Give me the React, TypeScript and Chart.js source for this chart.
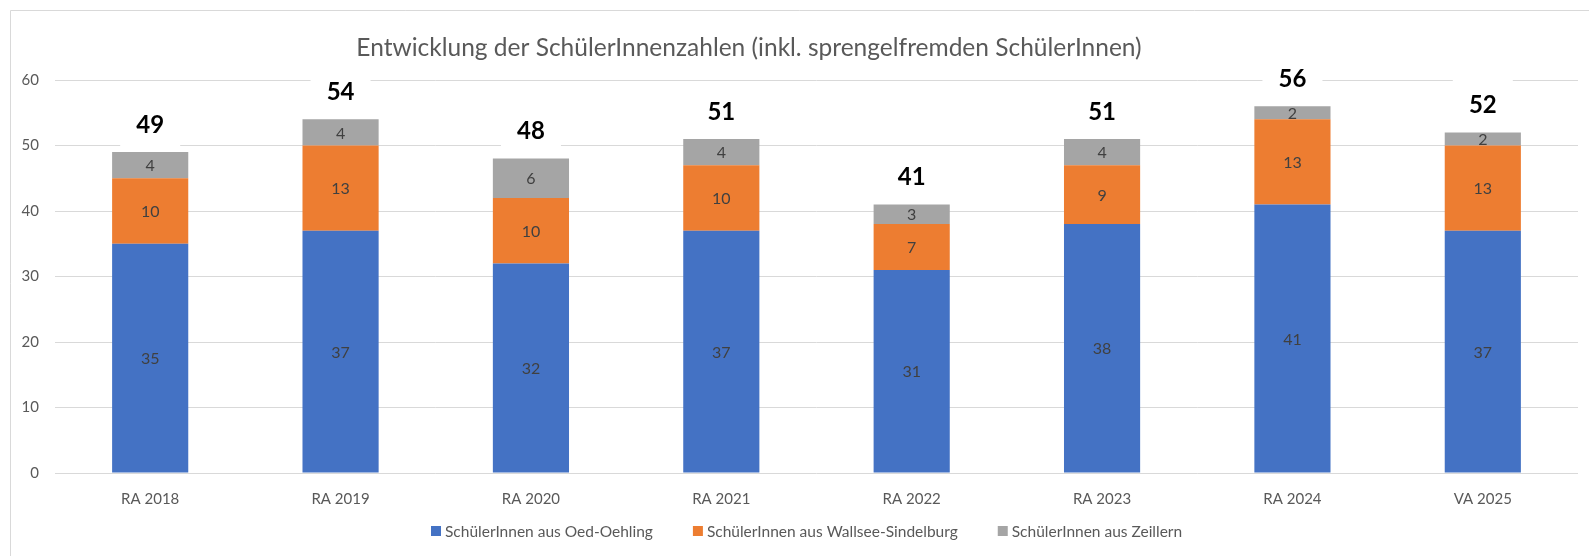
import React, { useEffect, useRef } from 'react';
import { Chart, registerables } from 'chart.js';

Chart.register(...registerables);

const categories = ['RA 2018', 'RA 2019', 'RA 2020', 'RA 2021', 'RA 2022', 'RA 2023', 'RA 2024', 'VA 2025'];
const oedOehling = [35, 37, 32, 37, 31, 38, 41, 37];
const wallseeSindelburg = [10, 13, 10, 10, 7, 9, 13, 13];
const zeillern = [4, 4, 6, 4, 3, 4, 2, 2];
const totals = [49, 54, 48, 51, 41, 51, 56, 52];
const seriesNames = ['SchülerInnen aus Oed-Oehling', 'SchülerInnen aus Wallsee-Sindelburg', 'SchülerInnen aus Zeillern'];
const seriesColors = ['#4472C4', '#ED7D31', '#A5A5A5'];
const chartTitle = 'Entwicklung der SchülerInnenzahlen (inkl. sprengelfremden SchülerInnen)';
const yMin = 0;
const yMax = 60;
const yStep = 10;

const FONT = 'Lato, "Open Sans", sans-serif';
const TEXT = '#595959';

const decorPlugin = {
  id: 'decor',
  beforeDraw(chart: any) {
    const ctx = chart.ctx;
    ctx.save();
    ctx.fillStyle = '#ffffff';
    ctx.fillRect(0, 0, chart.width, chart.height);
    ctx.strokeStyle = '#D9D9D9';
    ctx.lineWidth = 1;
    ctx.beginPath();
    ctx.moveTo(10.5, chart.height);
    ctx.lineTo(10.5, 10.5);
    ctx.lineTo(chart.width, 10.5);
    ctx.stroke();
    ctx.restore();
  },
  afterDatasetsDraw(chart: any) {
    const ctx = chart.ctx;
    ctx.save();
    // segment labels
    ctx.font = `16px ${FONT}`;
    ctx.fillStyle = '#404040';
    ctx.textAlign = 'center';
    ctx.textBaseline = 'middle';
    chart.data.datasets.forEach((ds: any, di: number) => {
      const meta = chart.getDatasetMeta(di);
      meta.data.forEach((el: any, i: number) => {
        const v = ds.data[i];
        const cy = (el.y + el.base) / 2;
        ctx.fillText(String(v), el.x, cy + 1);
      });
    });
    // totals
    const yScale = chart.scales.y;
    const meta0 = chart.getDatasetMeta(0);
    totals.forEach((t, i) => {
      const x = meta0.data[i].x;
      const cy = yScale.getPixelForValue(t) - 28;
      ctx.fillStyle = '#ffffff';
      ctx.fillRect(x - 30, cy - 26, 60, 52);
      ctx.fillStyle = '#000000';
      ctx.font = `bold 24px ${FONT}`;
      ctx.textAlign = 'center';
      ctx.textBaseline = 'middle';
      ctx.fillText(String(t), x, cy + 1);
    });
    ctx.restore();
  },
  afterDraw(chart: any) {
    const ctx = chart.ctx;
    ctx.save();
    // title
    ctx.font = `24.5px ${FONT}`;
    ctx.fillStyle = TEXT;
    ctx.textAlign = 'center';
    ctx.textBaseline = 'alphabetic';
    ctx.fillText(chartTitle, 749, 56);
    // legend
    ctx.font = `15.5px ${FONT}`;
    const box = 10;
    const boxGap = 4;
    const itemGap = 40;
    const widths = seriesNames.map((n) => ctx.measureText(n).width);
    const total = widths.reduce((a, w) => a + box + boxGap + w, 0) + itemGap * (seriesNames.length - 1);
    let x = Math.round(806.5 - total / 2);
    const cy = 531;
    ctx.textAlign = 'left';
    ctx.textBaseline = 'middle';
    seriesNames.forEach((n, i) => {
      ctx.fillStyle = seriesColors[i];
      ctx.fillRect(x, cy - box / 2, box, box);
      ctx.fillStyle = TEXT;
      ctx.fillText(n, x + box + boxGap, cy + 1);
      x += box + boxGap + widths[i] + itemGap;
    });
    ctx.restore();
  },
};

export default function App() {
  const canvasRef = useRef<HTMLCanvasElement | null>(null);

  useEffect(() => {
    let chart: Chart | null = null;
    let cancelled = false;
    const build = () => {
      if (cancelled || !canvasRef.current) return;
      Chart.defaults.font.family = FONT;
      chart = new Chart(canvasRef.current, {
        type: 'bar',
        data: {
          labels: categories,
          datasets: [
            { label: seriesNames[0], data: oedOehling, backgroundColor: seriesColors[0] },
            { label: seriesNames[1], data: wallseeSindelburg, backgroundColor: seriesColors[1] },
            { label: seriesNames[2], data: zeillern, backgroundColor: seriesColors[2] },
          ],
        },
        options: {
          responsive: false,
          animation: false,
          devicePixelRatio: 1,
          layout: { padding: { left: 0, right: 11, top: 80, bottom: 43 } },
          datasets: { bar: { categoryPercentage: 1, barPercentage: 0.4 } } as any,
          plugins: {
            legend: { display: false },
            title: { display: false },
            tooltip: { enabled: false },
          },
          scales: {
            x: {
              stacked: true,
              grid: { display: false },
              border: { display: false },
              ticks: { color: TEXT, font: { size: 15 }, padding: 9 },
              afterFit: (s: any) => { s.height = 40; },
            },
            y: {
              stacked: true,
              min: yMin,
              max: yMax,
              grid: { color: '#D9D9D9', lineWidth: 1, drawTicks: false },
              border: { display: false },
              ticks: { stepSize: yStep, color: TEXT, font: { size: 15 }, padding: 16 },
              afterFit: (s: any) => { s.width = 55; },
            },
          },
        },
        plugins: [decorPlugin],
      });
    };
    const fontsReady = (document as any).fonts
      ? Promise.all([
          (document as any).fonts.load(`22px Lato`),
          (document as any).fonts.load(`bold 22px Lato`),
        ]).catch(() => null)
      : Promise.resolve(null);
    fontsReady.then(build);
    return () => {
      cancelled = true;
      if (chart) chart.destroy();
    };
  }, []);

  return (
    <div style={{ position: 'absolute', left: 0, top: 0, width: 1589, height: 556 }}>
      <canvas ref={canvasRef} width={1589} height={556} style={{ display: 'block' }} />
    </div>
  );
}
